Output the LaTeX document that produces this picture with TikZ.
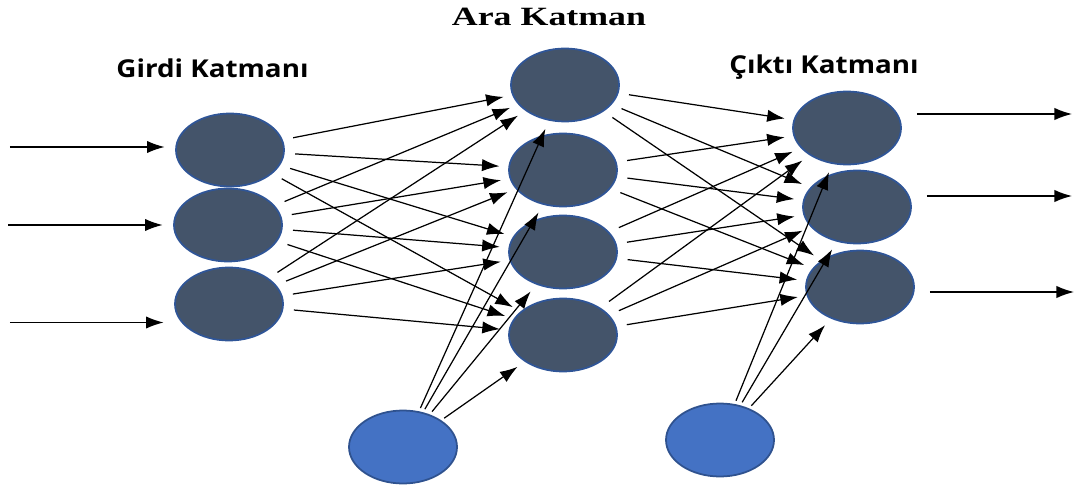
\documentclass[tikz,border=0pt]{standalone}
\usepackage{fontspec}
\setmainfont{Liberation Serif}
\newfontfamily\labelfont{Open Sans}
\usetikzlibrary{arrows.meta,shapes.geometric}
\definecolor{neuronfill}{HTML}{44546A}
\definecolor{neuronline}{HTML}{2F5597}
\definecolor{biasfill}{HTML}{4472C4}
\definecolor{biasline}{HTML}{2F528F}
\tikzset{
  neuron/.style={ellipse, draw=neuronline, fill=neuronfill, line width=1pt,
    minimum width=2.16cm, minimum height=1.46cm, inner sep=0pt},
  biasnode/.style={neuron, draw=biasline, fill=biasfill},
  edge/.style={-{Latex[length=10pt,width=7pt]}, line width=0.7pt,
    shorten <=6pt, shorten >=5pt},
  layerlabel/.style={font=\labelfont\bfseries\fontsize{14}{16}\selectfont,
    xscale=1.13, transform shape}
}
\begin{document}
\begin{tikzpicture}
    \useasboundingbox (0,0) rectangle (21.48,9.78);

    % Input layer
    \node[neuron] (i1) at (4.6,6.78) {};
    \node[neuron] (i2) at (4.56,5.28) {};
    \node[neuron] (i3) at (4.58,3.70) {};
    \node[layerlabel] at (4.25,8.42) {Girdi Katmanı};

    % Hidden layer
    \node[neuron] (h1) at (11.3,8.08) {};
    \node[neuron] (h2) at (11.26,6.38) {};
    \node[neuron] (h3) at (11.26,4.74) {};
    \node[neuron] (h4) at (11.26,3.08) {};
    \node[font=\bfseries\fontsize{15}{17}\selectfont, xscale=1.36, transform shape]
        at (10.98,9.44) {Ara Katman};

    % Output layer
    \node[neuron] (o1) at (16.94,7.22) {};
    \node[neuron] (o2) at (17.14,5.64) {};
    \node[neuron] (o3) at (17.2,4.04) {};
    \node[layerlabel] at (16.48,8.44) {Çıktı Katmanı};

    % Bias units
    \node[biasnode] (b1) at (8.06,0.84) {};
    \node[biasnode] (b2) at (14.4,0.98) {};

    % Incoming and outgoing signals
    \coordinate (x1) at (0.2,6.84);
    \coordinate (x2) at (0.16,5.28);
    \coordinate (x3) at (0.2,3.33);
    \coordinate (y1) at (21.44,7.5);
    \coordinate (y2) at (21.44,5.86);
    \coordinate (y3) at (21.48,3.94);
    \foreach \k in {1,2,3} {
        \draw[edge, shorten <=0pt, shorten >=6pt] (x\k) -- (x\k -| i\k.west);
        \draw[edge, shorten <=0.3cm, shorten >=0pt] (o\k.east |- y\k) -- (y\k);
    }

    % Weights
    \foreach \a in {1,2,3}
        \foreach \b in {1,...,4}
            \draw[edge] (i\a) -- (h\b);
    \foreach \a in {1,...,4}
        \foreach \b in {1,2,3}
            \draw[edge] (h\a) -- (o\b);
    \foreach \b in {1,...,4}
        \draw[edge, shorten <=2pt] (b1) -- (h\b);
    \foreach \b in {1,2,3}
        \draw[edge, shorten <=2pt] (b2) -- (o\b);
\end{tikzpicture}
\end{document}
